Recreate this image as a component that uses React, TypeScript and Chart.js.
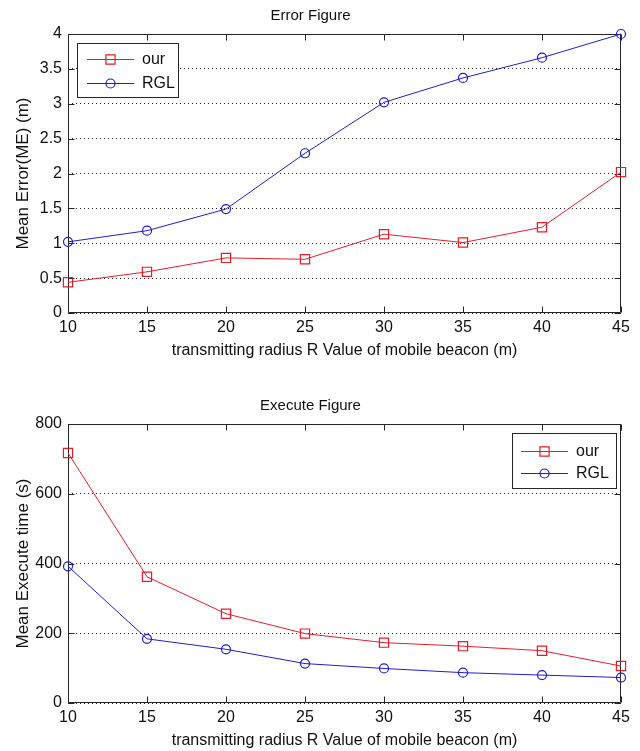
import React, { useEffect, useRef } from "react";
import { Chart, registerables } from "chart.js";

Chart.register(...registerables);

// ---------- data ----------
const radiusValues = [10, 15, 20, 25, 30, 35, 40, 45];
const seriesNames = ["our", "RGL"];
const errorOur = [0.44, 0.59, 0.79, 0.77, 1.13, 1.01, 1.23, 2.02];
const errorRGL = [1.02, 1.18, 1.49, 2.29, 3.02, 3.37, 3.66, 4.0];
const timeOur = [717, 362, 256, 199, 173, 163, 150, 106];
const timeRGL = [392, 184, 154, 113, 99, 87, 80, 73];
const xTicks = [10, 15, 20, 25, 30, 35, 40, 45];
const errorTicks = [0, 0.5, 1, 1.5, 2, 2.5, 3, 3.5, 4];
const timeTicks = [0, 200, 400, 600, 800];

const FONT = "'Liberation Sans', Arial, Helvetica, sans-serif";
const RED = "rgb(228,30,40)";
const BLUE = "rgb(30,30,205)";
const AXIS = "#262626";

type LegendSpec = {
  x: number; y: number; w: number; h: number;
  rows: number[]; lineX1: number; lineX2: number; textX: number;
};

type PanelSpec = {
  title: string;
  yTitle: string;
  xTitle: string;
  ours: number[];
  rgl: number[];
  yTicks: number[];
  height: number;
  titlePadTop: number;
  titlePadBottom: number;
  xScaleHeight: number;
  xTitlePadBottom: number;
  legend: LegendSpec;
};

const framePlugin = {
  id: "matlabFrame",
  beforeDatasetsDraw(chart: any) {
    const { ctx, chartArea: a, scales } = chart;
    const L = Math.round(a.left) + 0.5;
    const R = Math.round(a.right) - 0.5;
    const T = Math.round(a.top) + 0.5;
    const B = Math.round(a.bottom) - 0.5;
    ctx.save();
    ctx.strokeStyle = AXIS;
    ctx.lineWidth = 1;
    ctx.setLineDash([]);
    ctx.beginPath();
    ctx.rect(L, T, R - L, B - T);
    ctx.stroke();
    const tl = 6;
    ctx.beginPath();
    for (const t of scales.x.ticks) {
      const px = Math.round(scales.x.getPixelForValue(t.value)) + 0.5;
      ctx.moveTo(px, B);
      ctx.lineTo(px, B - tl);
      ctx.moveTo(px, T);
      ctx.lineTo(px, T + tl);
    }
    for (const t of scales.y.ticks) {
      const py = Math.round(scales.y.getPixelForValue(t.value)) + 0.5;
      ctx.moveTo(L, py);
      ctx.lineTo(L + tl, py);
      ctx.moveTo(R, py);
      ctx.lineTo(R - tl, py);
    }
    ctx.stroke();
    ctx.restore();
  },
};

function drawMarker(ctx: CanvasRenderingContext2D, style: string, x: number, y: number, r: number) {
  ctx.beginPath();
  if (style === "rect") {
    const s = Math.SQRT1_2 * r;
    ctx.rect(x - s, y - s, 2 * s, 2 * s);
  } else {
    ctx.arc(x, y, r, 0, Math.PI * 2);
  }
  ctx.stroke();
}

function makeLegendPlugin(spec: LegendSpec) {
  return {
    id: "matlabLegend",
    afterDraw(chart: any) {
      const { ctx } = chart;
      ctx.save();
      ctx.fillStyle = "#fff";
      ctx.fillRect(spec.x, spec.y, spec.w, spec.h);
      ctx.strokeStyle = AXIS;
      ctx.lineWidth = 1;
      ctx.strokeRect(spec.x + 0.5, spec.y + 0.5, spec.w, spec.h);
      chart.data.datasets.forEach((ds: any, i: number) => {
        const y = spec.rows[i];
        ctx.strokeStyle = ds.borderColor;
        ctx.lineWidth = 1;
        ctx.beginPath();
        ctx.moveTo(spec.lineX1, y + 0.5);
        ctx.lineTo(spec.lineX2, y + 0.5);
        ctx.stroke();
        ctx.lineWidth = ds.pointBorderWidth;
        drawMarker(ctx, ds.pointStyle, (spec.lineX1 + spec.lineX2) / 2, y + 0.5, ds.pointRadius);
        ctx.fillStyle = "#111";
        ctx.font = `16px ${FONT}`;
        ctx.textBaseline = "middle";
        ctx.textAlign = "left";
        ctx.fillText(ds.label, spec.textX, y + 1);
      });
      ctx.restore();
    },
  };
}

function makeConfig(p: PanelSpec): any {
  const yMax = p.yTicks[p.yTicks.length - 1];
  return {
    type: "line",
    data: {
      datasets: [
        {
          label: seriesNames[0],
          data: radiusValues.map((x, i) => ({ x, y: p.ours[i] })),
          borderColor: RED,
          borderWidth: 1,
          pointStyle: "rect",
          pointRadius: 6.5,
          pointBorderWidth: 1.2,
          pointBorderColor: RED,
          pointBackgroundColor: "rgba(0,0,0,0)",
          tension: 0,
          fill: false,
          clip: false,
        },
        {
          label: seriesNames[1],
          data: radiusValues.map((x, i) => ({ x, y: p.rgl[i] })),
          borderColor: BLUE,
          borderWidth: 1,
          pointStyle: "circle",
          pointRadius: 4.5,
          pointBorderWidth: 1.2,
          pointBorderColor: BLUE,
          pointBackgroundColor: "rgba(0,0,0,0)",
          tension: 0,
          fill: false,
          clip: false,
        },
      ],
    },
    options: {
      responsive: false,
      animation: false,
      events: [],
      layout: { padding: { left: 0, right: 19, top: 0, bottom: 0 } },
      plugins: {
        legend: { display: false },
        tooltip: { enabled: false },
        title: {
          display: true,
          text: p.title,
          color: "#111",
          font: { family: FONT, size: 15, weight: "normal", lineHeight: 1.2 },
          padding: { top: p.titlePadTop, bottom: p.titlePadBottom },
        },
      },
      scales: {
        x: {
          type: "linear",
          min: radiusValues[0],
          max: radiusValues[radiusValues.length - 1],
          afterBuildTicks: (axis: any) => {
            axis.ticks = xTicks.map((v) => ({ value: v }));
          },
          afterFit: (scale: any) => {
            scale.height = p.xScaleHeight;
          },
          grid: { display: false, drawTicks: false },
          border: { display: false },
          ticks: {
            color: "#111",
            padding: 5,
            maxRotation: 0,
            autoSkip: false,
            font: { family: FONT, size: 16, lineHeight: 1.2 },
            callback: (v: any) => String(v),
          },
          title: {
            display: true,
            text: p.xTitle,
            color: "#111",
            font: { family: FONT, size: 16, lineHeight: 1.2 },
            padding: { top: 0, bottom: p.xTitlePadBottom },
          },
        },
        y: {
          type: "linear",
          min: p.yTicks[0],
          max: yMax,
          afterBuildTicks: (axis: any) => {
            axis.ticks = p.yTicks.map((v) => ({ value: v }));
          },
          afterFit: (scale: any) => {
            scale.width = 68;
          },
          grid: { display: true, drawTicks: false, color: "#222", lineWidth: 1 },
          border: { display: false, dash: [1, 3] },
          ticks: {
            color: "#111",
            padding: 6,
            autoSkip: false,
            font: { family: FONT, size: 16, lineHeight: 1.2 },
            callback: (v: any) => String(v),
          },
          title: {
            display: true,
            text: p.yTitle,
            color: "#111",
            font: { family: FONT, size: 17, lineHeight: 1.2 },
            padding: { top: 13, bottom: 0 },
          },
        },
      },
    },
    plugins: [framePlugin, makeLegendPlugin(p.legend)],
  };
}

const xTitleText = "transmitting radius R Value of mobile beacon (m)";

const errorPanel: PanelSpec = {
  title: "Error Figure",
  yTitle: "Mean Error(ME) (m)",
  xTitle: xTitleText,
  ours: errorOur,
  rgl: errorRGL,
  yTicks: errorTicks,
  height: 380,
  titlePadTop: 7,
  titlePadBottom: 9,
  xScaleHeight: 67,
  xTitlePadBottom: 20,
  legend: { x: 77, y: 43, w: 101, h: 54, rows: [59, 83], lineX1: 87, lineX2: 134, textX: 142 },
};

const timePanel: PanelSpec = {
  title: "Execute Figure",
  yTitle: "Mean Execute time (s)",
  xTitle: xTitleText,
  ours: timeOur,
  rgl: timeRGL,
  yTicks: timeTicks,
  height: 371,
  titlePadTop: 17,
  titlePadBottom: 9,
  xScaleHeight: 48,
  xTitlePadBottom: 1,
  legend: { x: 512, y: 53, w: 104, h: 55, rows: [71, 93], lineX1: 521, lineX2: 568, textX: 576 },
};

function Panel({ spec }: { spec: PanelSpec }) {
  const ref = useRef<HTMLCanvasElement | null>(null);
  useEffect(() => {
    if (!ref.current) return;
    const chart = new Chart(ref.current, makeConfig(spec));
    return () => chart.destroy();
  }, [spec]);
  return (
    <div style={{ width: 640, height: spec.height, position: "relative" }}>
      <canvas ref={ref} width={640} height={spec.height} style={{ display: "block", width: 640, height: spec.height }} />
    </div>
  );
}

export default function App() {
  return (
    <div style={{ position: "absolute", left: 0, top: 0, width: 640, height: 751, background: "#fff" }}>
      <Panel spec={errorPanel} />
      <Panel spec={timePanel} />
    </div>
  );
}
